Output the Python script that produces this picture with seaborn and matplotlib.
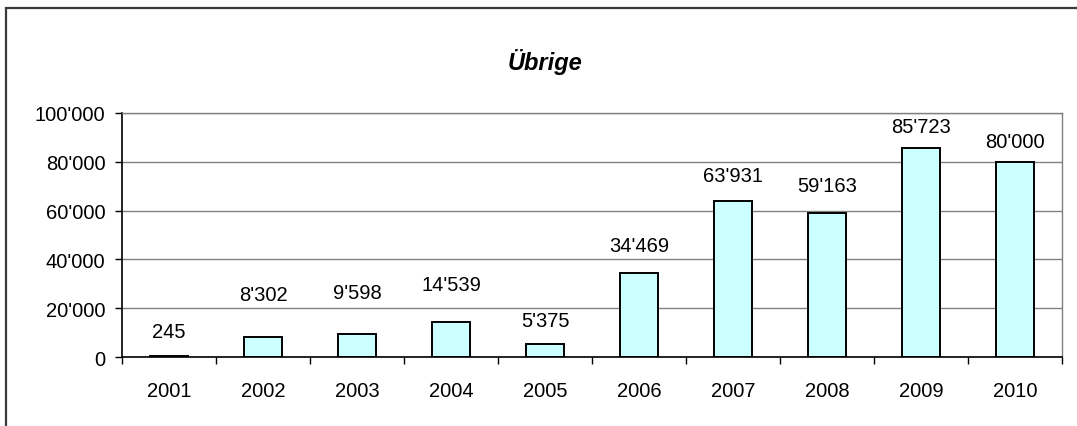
import matplotlib
matplotlib.use("Agg")
import matplotlib.pyplot as plt
import matplotlib.patches as mpatches
from matplotlib.ticker import FuncFormatter, FixedLocator
import pandas as pd
import seaborn as sns

years = ["2001", "2002", "2003", "2004", "2005", "2006", "2007", "2008", "2009", "2010"]
values = [245, 8302, 9598, 14539, 5375, 34469, 63931, 59163, 85723, 80000]
title = "Übrige"

# label lift above bar top, pixels (labels were placed by hand in the original)
label_lift = [25, 42, 41, 37, 23, 27, 26, 27, 21, 20]


def swiss(v, pos=None):
    return f"{int(round(v)):,}".replace(",", "'")


sns.set_theme(style="white")
plt.rcParams["font.family"] = ["Liberation Sans", "DejaVu Sans"]

df = pd.DataFrame({"year": years, "value": values})

W, H = 1077, 427
fig = plt.figure(figsize=(W / 100, H / 100), dpi=100)
fig.patch.set_facecolor("white")

# outer chart frame (runs off the right and bottom edges)
frame = mpatches.Rectangle((6 / W, -0.1), 1.2, 1 - 9 / H + 0.1, transform=fig.transFigure,
                           fill=False, edgecolor="#3a3a3a", linewidth=1.6, zorder=0)
fig.patches.append(frame)

ax = fig.add_axes([122 / W, 1 - 358 / H, (1062 - 122) / W, (358 - 114) / H])
sns.barplot(data=df, x="year", y="value", ax=ax, color="#CCFFFF", width=0.41,
            edgecolor="black", linewidth=1.4, saturation=1, zorder=3)

ax.set_ylim(0, 100000)
ax.set_xlim(-0.5, len(years) - 0.5)
ax.yaxis.set_major_locator(FixedLocator([0, 20000, 40000, 60000, 80000, 100000]))
ax.yaxis.set_major_formatter(FuncFormatter(swiss))
ax.grid(axis="y", color="#808080", linewidth=1.0, zorder=0)
ax.set_axisbelow(True)

ax.set_xlabel("")
ax.set_ylabel("")

for s in ["top", "right"]:
    ax.spines[s].set_color("#808080")
    ax.spines[s].set_linewidth(1.0)
for s in ["left", "bottom"]:
    ax.spines[s].set_color("black")
    ax.spines[s].set_linewidth(1.2)

ax.xaxis.set_minor_locator(FixedLocator([i - 0.5 for i in range(len(years) + 1)]))
ax.tick_params(axis="x", which="major", length=0, pad=17, labelsize=14.5, colors="black")
ax.tick_params(axis="x", which="minor", length=5, width=1.0, color="black", direction="out", bottom=True)
ax.tick_params(axis="y", which="major", length=5, width=1.0, color="black", direction="out",
               left=True, pad=7, labelsize=14.5, labelcolor="black")

for i, (v, lift) in enumerate(zip(values, label_lift)):
    ax.annotate(swiss(v), xy=(i, v), xytext=(0, lift), textcoords="offset pixels",
                ha="center", va="center", fontsize=14.5, color="black")

fig.text(545 / W, 1 - 62 / H, title, ha="center", va="center", fontsize=17,
         fontstyle="italic", fontweight="bold", color="black")

fig.savefig("out.png", dpi=100, facecolor="white")
